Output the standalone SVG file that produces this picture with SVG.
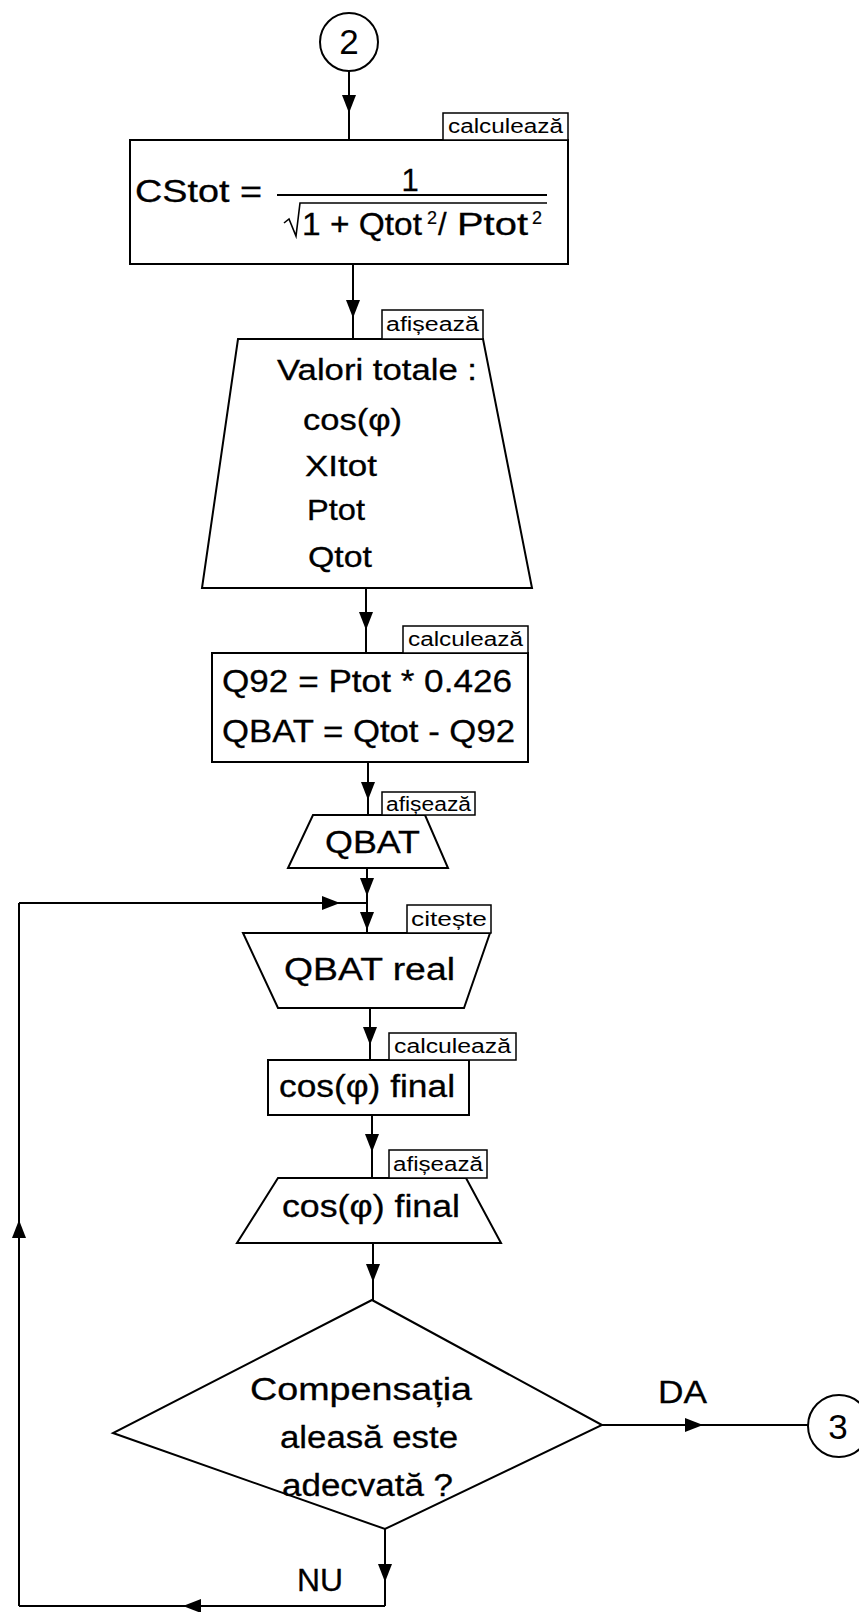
<svg xmlns="http://www.w3.org/2000/svg" width="859" height="1612" viewBox="0 0 859 1612">
  <defs>
    <!-- filled triangle placed at the interior vertex of a connector path -->
    <marker id="arrow" viewBox="0 0 18 14" refX="18" refY="7" markerWidth="18" markerHeight="14" markerUnits="userSpaceOnUse" orient="auto">
      <path d="M0,0 L18,7 L0,14 z" fill="#000"/>
    </marker>
    <style>
      .shape { fill: #fff; stroke: #000; stroke-width: 2; }
      .tag { fill: #fff; stroke: #000; stroke-width: 1.5; }
      .conn { fill: none; stroke: #000; stroke-width: 2; marker-mid: url(#arrow); }
      .plain { fill: none; stroke: #000; stroke-width: 2; }
      text { font-family: "Liberation Sans", Arial, sans-serif; fill: #000; }
      .t { font-size: 31px; stroke: #000; stroke-width: 0.3; }
      .tv { font-size: 29px; stroke: #000; stroke-width: 0.3; }
      .sup { font-size: 18px; stroke: #000; stroke-width: 0.2; }
      .lbl { font-size: 20px; }
      .num { font-size: 35px; }
    </style>
  </defs>

  <rect x="0" y="0" width="859" height="1612" fill="#fff"/>

  <!-- connectors -->
  <g id="connectors">
    <path class="conn" d="M349,71 L349,113 L349,140"/>
    <path class="conn" d="M353,264 L353,318 L353,339"/>
    <path class="conn" d="M366,588 L366,630 L366,653"/>
    <path class="conn" d="M368,762 L368,800 L368,815"/>
    <path class="conn" d="M367,868 L367,896 L367,903"/>
    <path class="conn" d="M367,903 L367,930 L367,933"/>
    <path class="conn" d="M370,1008 L370,1045 L370,1060"/>
    <path class="conn" d="M372,1115 L372,1152 L372,1178"/>
    <path class="conn" d="M373,1243 L373,1282 L373,1300"/>
    <!-- DA branch -->
    <path class="conn" d="M602,1425 L703,1425 L808,1425"/>
    <!-- NU branch, looping back above the input block -->
    <path class="conn" d="M385,1529 L385,1582 L385,1606"/>
    <path class="conn" d="M385,1606 L183,1606 L19,1606"/>
    <path class="conn" d="M19,1606 L19,1220 L19,903"/>
    <path class="conn" d="M19,903 L340,903 L367,903"/>
  </g>

  <!-- connector 2 -->
  <g id="start">
    <circle class="shape" cx="349" cy="42" r="29"/>
    <text class="num" x="349" y="54" text-anchor="middle">2</text>
  </g>

  <!-- CStot formula -->
  <g id="calc-cstot">
    <rect class="shape" x="130" y="140" width="438" height="124"/>
    <rect class="tag" x="443" y="113" width="125" height="27"/>
    <text class="lbl" x="448" y="133" textLength="115" lengthAdjust="spacingAndGlyphs">calculează</text>
    <text class="t" x="135" y="202" font-size="33" textLength="127" lengthAdjust="spacingAndGlyphs">CStot =</text>
    <text class="t" x="410" y="191" font-size="33" text-anchor="middle">1</text>
    <line class="plain" x1="277" y1="195" x2="547" y2="195"/>
    <path fill="none" stroke="#000" stroke-width="1.6" d="M284,223 L289,219 L296,236 L300,203 L547,203"/>
    <text class="t" x="302" y="235" textLength="120" lengthAdjust="spacingAndGlyphs">1 + Qtot</text>
    <text class="sup" x="427" y="224">2</text>
    <text class="t" x="438" y="235">/</text>
    <text class="t" x="457" y="235" textLength="71" lengthAdjust="spacingAndGlyphs">Ptot</text>
    <text class="sup" x="532" y="224">2</text>
  </g>

  <!-- total values output -->
  <g id="show-totals">
    <polygon class="shape" points="238,339 483,339 532,588 202,588"/>
    <rect class="tag" x="382" y="310" width="101" height="29"/>
    <text class="lbl" x="386" y="331" textLength="93" lengthAdjust="spacingAndGlyphs">afișează</text>
    <text class="tv" x="277" y="380" textLength="200" lengthAdjust="spacingAndGlyphs">Valori totale :</text>
    <text class="tv" x="303" y="430" textLength="99" lengthAdjust="spacingAndGlyphs">cos(φ)</text>
    <text class="tv" x="305" y="476" textLength="72" lengthAdjust="spacingAndGlyphs">XItot</text>
    <text class="tv" x="307" y="520" textLength="58" lengthAdjust="spacingAndGlyphs">Ptot</text>
    <text class="tv" x="308" y="567" textLength="64" lengthAdjust="spacingAndGlyphs">Qtot</text>
  </g>

  <!-- Q92 / QBAT computation -->
  <g id="calc-qbat">
    <rect class="shape" x="212" y="653" width="316" height="109"/>
    <rect class="tag" x="403" y="626" width="125" height="27"/>
    <text class="lbl" x="408" y="646" textLength="115" lengthAdjust="spacingAndGlyphs">calculează</text>
    <text class="t" x="222" y="692" textLength="290" lengthAdjust="spacingAndGlyphs">Q92 = Ptot * 0.426</text>
    <text class="t" x="222" y="742" textLength="293" lengthAdjust="spacingAndGlyphs">QBAT = Qtot - Q92</text>
  </g>

  <g id="show-qbat">
    <polygon class="shape" points="313,815 425,815 448,868 288,868"/>
    <rect class="tag" x="382" y="792" width="93" height="23"/>
    <text class="lbl" x="386" y="811" textLength="85" lengthAdjust="spacingAndGlyphs">afișează</text>
    <text class="t" x="325" y="853" textLength="95" lengthAdjust="spacingAndGlyphs">QBAT</text>
  </g>

  <g id="read-qbat-real">
    <polygon class="shape" points="243,933 490,933 464,1008 278,1008"/>
    <rect class="tag" x="407" y="905" width="84" height="28"/>
    <text class="lbl" x="411" y="926" textLength="76" lengthAdjust="spacingAndGlyphs">citește</text>
    <text class="t" x="284" y="980" textLength="171" lengthAdjust="spacingAndGlyphs">QBAT real</text>
  </g>

  <g id="calc-cos-final">
    <rect class="shape" x="268" y="1060" width="201" height="55"/>
    <rect class="tag" x="389" y="1033" width="127" height="27"/>
    <text class="lbl" x="394" y="1053" textLength="117" lengthAdjust="spacingAndGlyphs">calculează</text>
    <text class="t" x="279" y="1097" textLength="176" lengthAdjust="spacingAndGlyphs">cos(φ) final</text>
  </g>

  <g id="show-cos-final">
    <polygon class="shape" points="278,1178 466,1178 501,1243 237,1243"/>
    <rect class="tag" x="389" y="1150" width="98" height="28"/>
    <text class="lbl" x="393" y="1171" textLength="90" lengthAdjust="spacingAndGlyphs">afișează</text>
    <text class="t" x="282" y="1217" textLength="178" lengthAdjust="spacingAndGlyphs">cos(φ) final</text>
  </g>

  <g id="decision">
    <polygon class="shape" points="372,1300 602,1425 385,1529 113,1433"/>
    <text class="t" x="250" y="1400" textLength="222" lengthAdjust="spacingAndGlyphs">Compensația</text>
    <text class="t" x="280" y="1448" textLength="178" lengthAdjust="spacingAndGlyphs">aleasă este</text>
    <text class="t" x="282" y="1496" textLength="171" lengthAdjust="spacingAndGlyphs">adecvată ?</text>
  </g>

  <g id="branch-labels">
    <text class="t" x="658" y="1403" textLength="49" lengthAdjust="spacingAndGlyphs">DA</text>
    <text class="t" x="297" y="1591" textLength="46" lengthAdjust="spacingAndGlyphs">NU</text>
  </g>

  <!-- connector 3 -->
  <g id="end">
    <circle class="shape" cx="839" cy="1426" r="31"/>
    <text class="num" x="838" y="1439" text-anchor="middle">3</text>
  </g>
</svg>
